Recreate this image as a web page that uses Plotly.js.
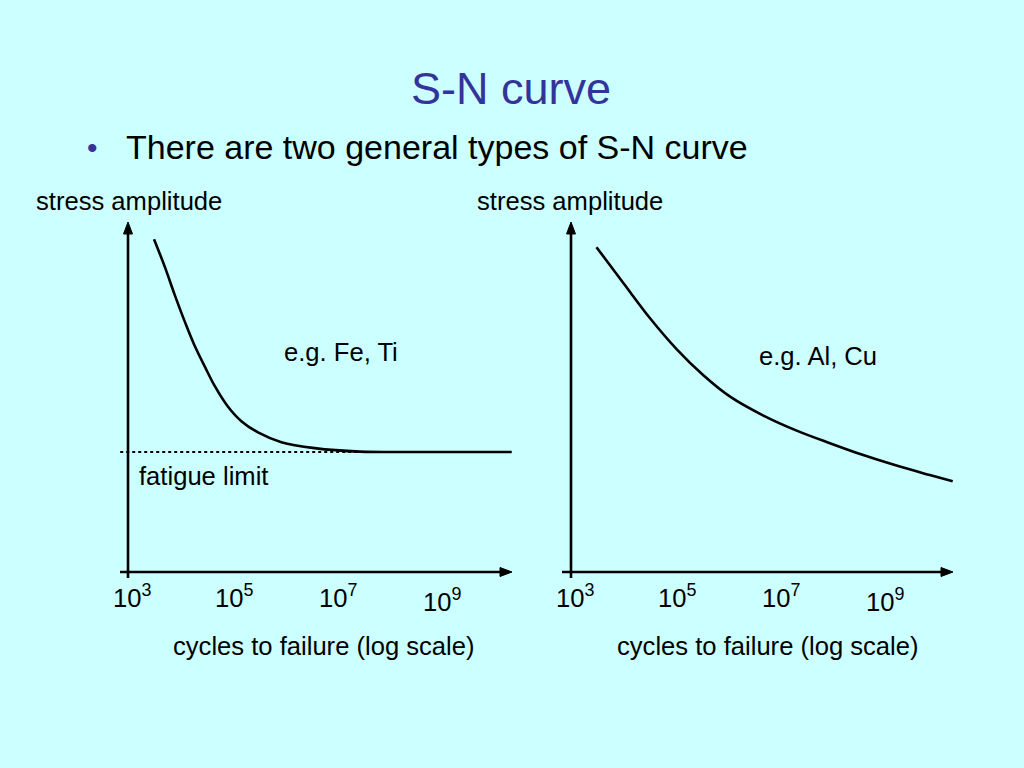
<!DOCTYPE html>
<html>
<head>
<meta charset="utf-8">
<script src="https://cdn.plot.ly/plotly-3.0.1.min.js"></script>
<style>
  html, body { margin: 0; padding: 0; background: #CCFFFF; }
  #chart { width: 1024px; height: 768px; }
</style>
</head>
<body>
<div id="chart"></div>
<script>
// ---- Data ----
// exponents of N (cycles to failure); stress amplitude in arbitrary units (0 = x axis)
const feTiLogN   = [3.50, 3.71, 3.90, 4.09, 4.28, 4.48, 4.67, 4.92, 5.18, 5.50, 5.95, 6.59, 7.46, 8.87, 10.38];
const feTiStress = [95.1, 87.1, 79.1, 71.6, 64.7, 58.6, 53.1, 47.3, 43.1, 39.9, 37.1, 35.4, 34.4, 34.3, 34.3];

const alCuLogN   = [3.49, 4.01, 4.52, 5.03, 5.54, 6.06, 6.70, 7.34, 7.98, 8.62, 9.26, 9.90, 10.34];
const alCuStress = [92.8, 82.5, 72.5, 63.7, 56.3, 50.1, 44.7, 40.4, 36.8, 33.4, 30.4, 27.7, 25.9];

const fatigueLimit = 34.3;
const fatigueLimitLogN = [2.85, 8.87];

const tickExponents = [3, 5, 7, 9];
const tickLabels = tickExponents.map(e => '10<sup>' + e + '</sup>');

const titleText = 'S-N curve';
const bulletText = 'There are two general types of S-N curve';
const yLabel = 'stress amplitude';
const xLabel = 'cycles to failure (log scale)';
const leftNote = 'e.g. Fe, Ti';
const rightNote = 'e.g. Al, Cu';
const limitNote = 'fatigue limit';

// ---- helpers ----
const pow10 = a => a.map(e => Math.pow(10, e));
const FONT = 'Liberation Sans, Arial, sans-serif';
const S = 25.6;
const H = 768, W = 1024;
const py = p => 1 - p / H;
const px = p => p / W;
const leftRange = [2.846, 10.385];
const rightRange = [2.827, 10.346];

const curveLine = {color: '#000000', width: 2.6, shape: 'spline', smoothing: 1};

const traces = [
  {x: pow10(fatigueLimitLogN), y: [fatigueLimit, fatigueLimit], xaxis: 'x', yaxis: 'y',
   mode: 'lines', line: {color: '#000000', width: 2, dash: 'dot'}, hoverinfo: 'skip'},
  {x: pow10(feTiLogN), y: feTiStress, xaxis: 'x', yaxis: 'y', mode: 'lines', line: curveLine},
  {x: pow10(alCuLogN), y: alCuStress, xaxis: 'x2', yaxis: 'y2', mode: 'lines', line: curveLine}
];

const hiddenX = r => ({type: 'log', range: r, visible: false, fixedrange: true});
const hiddenY = {range: [-1.714, 100], visible: false, fixedrange: true};

const annotations = [];
const shapes = [];
function txt(text, x, y, opts) {
  annotations.push(Object.assign({
    text: text, x: x, y: y, xref: 'paper', yref: 'paper',
    xanchor: 'center', yanchor: 'middle', showarrow: false,
    font: {family: FONT, size: S, color: '#000000'}
  }, opts || {}));
}
// title and bullet
txt(titleText, px(511), py(88), {font: {family: FONT, size: 45, color: '#333399'}});
txt('•', px(92), py(147), {font: {family: FONT, size: 30, color: '#333399'}});
txt(bulletText, px(124), py(147), {xanchor: 'left', font: {family: FONT, size: 34, color: '#000000'}});

const axLine = {color: '#000000', width: 2.6};
// panel texts and axes
[['x', 'y', leftRange, 129, 324, 341, 352, leftNote], ['x2', 'y2', rightRange, 570, 768, 818, 356, rightNote]].forEach(p => {
  const [xa, ya, rng, yLabX, xLabX, noteX, noteY, note] = p;
  txt(yLabel, px(yLabX), py(201));
  txt(xLabel, px(xLabX), py(646));
  txt(note, px(noteX), py(noteY));
  const origin = Math.pow(10, tickExponents[0]);
  // x axis line + arrowhead
  shapes.push({type: 'line', xref: xa + ' domain', yref: ya, x0: 0, x1: 0.985, y0: 0, y1: 0, line: axLine});
  shapes.push({type: 'path', xref: xa, yref: ya, xsizemode: 'pixel', ysizemode: 'pixel',
    xanchor: Math.pow(10, rng[1]), yanchor: 0, path: 'M 0 0 L -12 4.5 L -12 -4.5 Z',
    fillcolor: '#000000', line: {color: '#000000', width: 1}});
  // y axis line + arrowhead
  shapes.push({type: 'line', xref: xa, yref: ya + ' domain', x0: origin, x1: origin, y0: 0, y1: 0.985, line: axLine});
  shapes.push({type: 'path', xref: xa, yref: ya + ' domain', xsizemode: 'pixel', ysizemode: 'pixel',
    xanchor: origin, yanchor: 1, path: 'M 0 0 L -4.5 -12 L 4.5 -12 Z',
    fillcolor: '#000000', line: {color: '#000000', width: 1}});
  // tick labels
  tickExponents.forEach((e, i) => {
    annotations.push({x: e, y: py(e === 9 ? 600 : 596), xref: xa, yref: 'paper', text: tickLabels[i],
      showarrow: false, xanchor: 'center', yanchor: 'middle', xshift: e === 3 ? 4 : 2,
      font: {family: FONT, size: S, color: '#000000'}});
  });
});
txt(limitNote, px(203), py(476));

const layout = {
  width: W, height: H,
  margin: {l: 0, r: 0, t: 0, b: 0},
  paper_bgcolor: '#CCFFFF', plot_bgcolor: 'rgba(0,0,0,0)',
  showlegend: false,
  xaxis:  Object.assign(hiddenX(leftRange), {domain: [120 / W, 512 / W]}),
  xaxis2: Object.assign(hiddenX(rightRange), {domain: [562 / W, 953 / W]}),
  yaxis:  Object.assign({}, hiddenY, {domain: [1 - 578 / H, 1 - 222 / H]}),
  yaxis2: Object.assign({}, hiddenY, {domain: [1 - 578 / H, 1 - 222 / H]}),
  annotations: annotations,
  shapes: shapes
};

Plotly.newPlot('chart', traces, layout, {staticPlot: true, displayModeBar: false});
</script>
</body>
</html>
